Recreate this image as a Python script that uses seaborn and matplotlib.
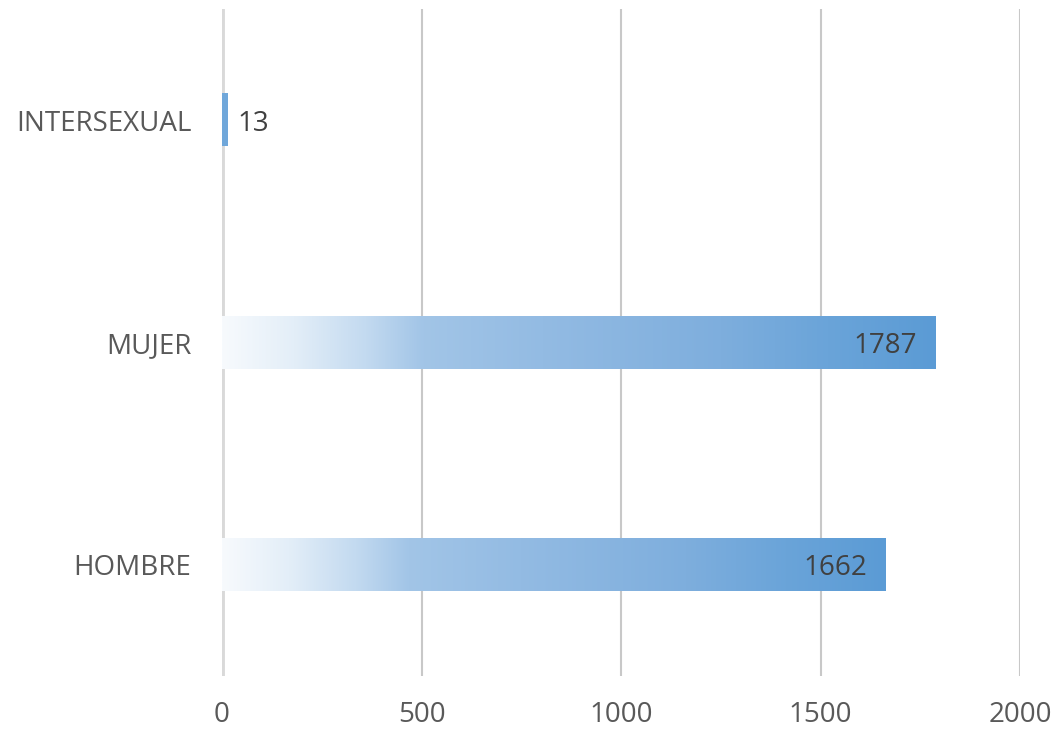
import numpy as np
import pandas as pd
import seaborn as sns
import matplotlib
matplotlib.use("Agg")
from matplotlib import pyplot as plt
from matplotlib.colors import LinearSegmentedColormap

# Data.
categories = ["INTERSEXUAL", "MUJER", "HOMBRE"]
values = [13, 1787, 1662]
x_ticks = [0, 500, 1000, 1500, 2000]

sns.set_theme(style="white")
plt.rcParams['font.family'] = ['Open Sans', 'DejaVu Sans']

df = pd.DataFrame({"sexo": categories, "total": values})

fig = plt.figure(figsize=(10.53, 7.31), dpi=100)
ax = fig.add_axes([222 / 1053, 1 - 676 / 731, (1020 - 222) / 1053, (676 - 9) / 731])

sns.barplot(data=df, x="total", y="sexo", order=categories, width=0.234,
            color="#5b9bd5", ax=ax, zorder=3)

# White-to-blue gradient along each bar, like the Excel fill.
grad = LinearSegmentedColormap.from_list("bar_grad", [
    (0.0, "#f7fafd"), (0.1, "#e3eef8"), (0.2, "#c3daf0"), (0.28, "#a2c5e7"),
    (0.45, "#93bbe3"), (0.7, "#7eaedd"), (0.85, "#6aa4d9"), (1.0, "#5b9bd5")])
ramp = np.linspace(0, 1, 256).reshape(1, -1)
for patch in ax.patches:
    x0, y0 = patch.get_x(), patch.get_y()
    w, h = patch.get_width(), patch.get_height()
    patch.set_facecolor("none")
    patch.set_linewidth(0)
    if w < 50:
        ax.imshow(np.ones((1, 2)), cmap=grad, vmin=0, vmax=1.25, aspect="auto",
                  extent=(x0, x0 + w, y0 + h, y0), zorder=3)
    else:
        ax.imshow(ramp, cmap=grad, aspect="auto", interpolation="bilinear",
                  extent=(x0, x0 + w, y0 + h, y0), zorder=3)

# Value labels.
for i, v in enumerate(values):
    if v < 200:
        ax.text(v + 25, i + 0.015, str(v), ha="left", va="center", fontsize=20, color="#404040", zorder=5)
    else:
        ax.text(v - 45, i + 0.015, str(v), ha="right", va="center", fontsize=20, color="#404040", zorder=5)

ax.set_xlim(0, 2000)
ax.set_ylim(2.5, -0.5)
ax.set_xticks(x_ticks)
ax.set_xticklabels([str(t) for t in x_ticks])
ax.set_xlabel("")
ax.set_ylabel("")

for t in x_ticks[1:]:
    ax.axvline(t, color="#c8c8c8", lw=1.5, zorder=1)
ax.axvline(0, color="#d9d9d9", lw=3.5, zorder=2)

for s in ax.spines.values():
    s.set_visible(False)
ax.tick_params(axis="x", length=0, pad=18, labelsize=20, labelcolor="#595959")
ax.tick_params(axis="y", length=0, pad=22, labelsize=20, labelcolor="#595959")
ax.set_facecolor("none")
fig.patch.set_facecolor("white")

fig.savefig("out.png", dpi=100)
